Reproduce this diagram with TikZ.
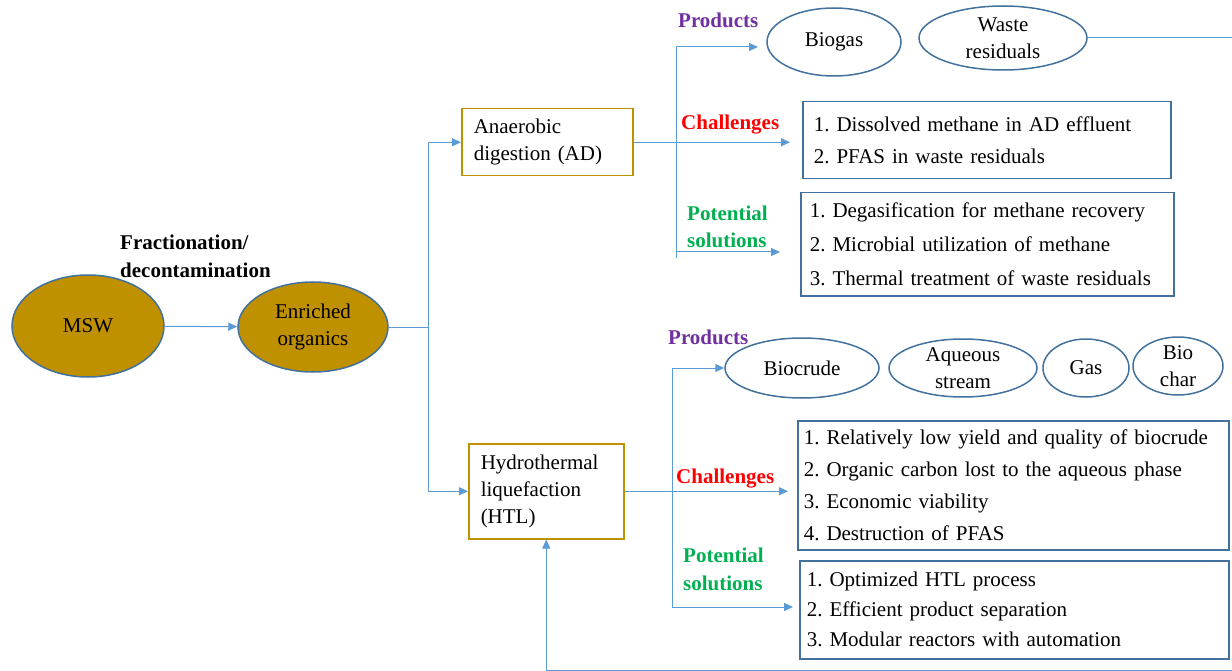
\documentclass[tikz,border=0pt]{standalone}
\usepackage{fontspec}
\setmainfont{Liberation Serif}
\frenchspacing
\usetikzlibrary{shapes.geometric,arrows.meta}
\definecolor{gold}{RGB}{191,144,0}
\definecolor{edgeblue}{RGB}{65,113,156}
\definecolor{lineblue}{RGB}{91,155,213}
\definecolor{prodpurple}{RGB}{112,48,160}
\definecolor{chalred}{RGB}{255,0,0}
\definecolor{solgreen}{RGB}{0,176,80}

\tikzset{
  every node/.style={font=\fontsize{21}{27}\selectfont},
  blob/.style={ellipse,draw=edgeblue,fill=gold,line width=1.5pt,inner sep=0pt,align=center},
  product/.style={ellipse,draw=edgeblue,line width=1.5pt,inner xsep=0pt,inner ysep=-6pt,align=center},
  stage/.style={rectangle,draw=gold,line width=1.5pt,anchor=north west,align=left,inner xsep=12pt},
  listbox/.style={rectangle,draw=edgeblue,line width=1.5pt,anchor=north west,align=left},
  tag/.style={font=\fontsize{21}{28}\selectfont\bfseries,anchor=base west,align=left,inner sep=0pt},
  link/.style={draw=lineblue,line width=1pt},
  arr/.style={link,-{Triangle[length=9pt,width=8pt]}}
}

\begin{document}
\begin{tikzpicture}[x=1pt,y=-1pt]
    \useasboundingbox (0,0) rectangle (1232,671);
    %MSW
    \node[blob,minimum width=152pt,minimum height=102pt] (msw) at (88,326) {MSW};
    \node[blob,minimum width=150pt,minimum height=90pt] (enriched) at (313,327) {Enriched\\organics};
    \node[tag] (fraction) at (120,277) {Fractionation/\\decontamination};
    \draw[arr] (msw) -- (enriched);
    \coordinate (split) at (428,327);
    \draw[link] (enriched.east) -- (split);
    %AD
    \node[stage,minimum width=171pt,minimum height=67pt,text width=147pt] (ad) at (461,108) {Anaerobic\\digestion (AD)};
    \draw[arr] (split) |- (ad.west);
    \node[product,minimum width=134pt,minimum height=68pt] (biogas) at (834,42) {Biogas};
    \node[product,minimum width=168pt,minimum height=64pt] (waste) at (1003,38) {Waste\\residuals};
    \node[listbox,minimum width=368pt,minimum height=77pt,text width=346pt,inner xsep=11pt,font=\fontsize{21}{32}\selectfont] (adch) at (802,101) {1. Dissolved methane in AD effluent\\ 2. PFAS in waste residuals};
    \node[listbox,minimum width=373pt,minimum height=103pt,text width=355pt,inner xsep=9pt,font=\fontsize{21}{34}\selectfont] (adsol) at (800,192) {1. Degasification for methane recovery\\ 2. Microbial utilization of methane\\3. Thermal treatment of waste residuals};
    \node[tag,text=prodpurple] (adprodtag) at (678,28) {Products};
    \node[tag,text=chalred] (adchtag) at (681,130) {Challenges};
    \node[tag,text=solgreen] (adsoltag) at (687,248) {Potential\\solutions};
    \coordinate (adtop) at (676,47);
    \coordinate (adbot) at (676,258);
    \coordinate (adprodin) at (758,47);
    \coordinate (adchin) at (790,142);
    \coordinate (adsolin) at (780,252);
    \draw[link] (adtop) -- (adbot);
    \draw[arr] (adtop) -- (adprodin);
    \draw[arr] (ad.east) -- (ad.east -| adchin);
    \draw[arr] (adbot |- adsolin) -- (adsolin);
    %HTL
    \node[stage,minimum width=155pt,minimum height=95pt,text width=131pt] (htl) at (468,443) {Hydrothermal\\liquefaction\\(HTL)};
    \draw[arr] (split) |- (htl.west);
    \node[product,minimum width=154pt,minimum height=60pt] (biocrude) at (802,368) {Biocrude};
    \node[product,minimum width=148pt,minimum height=58pt] (aqueous) at (963,368) {Aqueous\\stream};
    \node[product,minimum width=86pt,minimum height=58pt] (gas) at (1086,368) {Gas};
    \node[product,minimum width=90pt,minimum height=58pt] (biochar) at (1178,366) {Bio\\char};
    \node[listbox,minimum width=431pt,minimum height=129pt,text width=419pt,inner xsep=6pt,font=\fontsize{21}{32}\selectfont] (htlch) at (797,420) {1. Relatively low yield and quality of biocrude\\2. Organic carbon lost to the aqueous phase\\ 3. Economic viability\\ 4. Destruction of PFAS};
    \node[listbox,minimum width=429pt,minimum height=98pt,text width=415pt,inner xsep=7pt,font=\fontsize{21}{30}\selectfont] (htlsol) at (799,560) {1. Optimized HTL process\\2. Efficient product separation\\3. Modular reactors with automation};
    \node[tag,text=prodpurple] (htlprodtag) at (668,344) {Products};
    \node[tag,text=chalred] (htlchtag) at (676,483) {Challenges};
    \node[tag,text=solgreen] (htlsoltag) at (683,590) {Potential\\solutions};
    \coordinate (htlcorner) at (672,607);
    \coordinate (htlchin) at (788,491);
    \coordinate (htlsolin) at (793,607);
    \draw[arr] (htlcorner) |- (biocrude.west);
    \draw[arr] (htlcorner) -- (htlsolin);
    \draw[arr] (htl.east) -- (htl.east -| htlchin);
    %loop back
    \coordinate (wasteout) at (1232,39);
    \coordinate (loopin) at (1232,670);
    \draw[link] (waste.east) -- (waste.east -| wasteout);
    \draw[arr] (loopin) -| (htl.south);
\end{tikzpicture}
\end{document}
